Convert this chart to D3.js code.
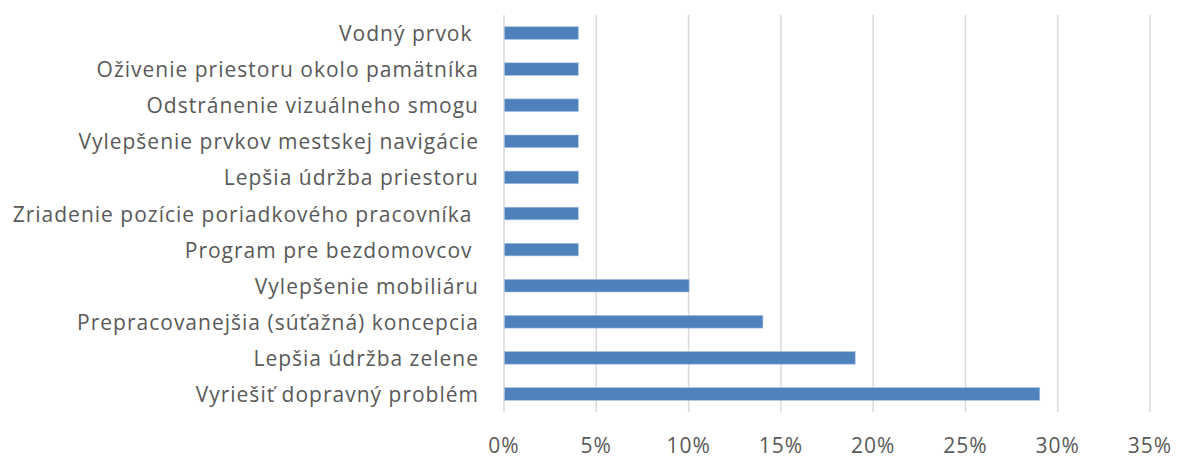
<!DOCTYPE html>
<html>
<head>
<meta charset="utf-8">
<script src="https://cdn.jsdelivr.net/npm/d3@7"></script>
<style>
  html, body { margin: 0; padding: 0; background: #fff; }
  svg text { font-family: "Open Sans", sans-serif; fill: #595959; white-space: pre; letter-spacing: 1px; }
</style>
</head>
<body>
<svg id="chart" width="1177" height="458"></svg>
<script>
const categories = [
  "Vodný prvok ",
  "Oživenie priestoru okolo pamätníka",
  "Odstránenie vizuálneho smogu",
  "Vylepšenie prvkov mestskej navigácie",
  "Lepšia údržba priestoru",
  "Zriadenie pozície poriadkového pracovníka ",
  "Program pre bezdomovcov ",
  "Vylepšenie mobiliáru",
  "Prepracovanejšia (súťažná) koncepcia",
  "Lepšia údržba zelene",
  "Vyriešiť dopravný problém"
];
const values = [0.04, 0.04, 0.04, 0.04, 0.04, 0.04, 0.04, 0.10, 0.14, 0.19, 0.29];
const tickValues = [0, 0.05, 0.10, 0.15, 0.20, 0.25, 0.30, 0.35];

(function () {
const svg = d3.select("#chart");
const pLeft = 504, pRight = 1150, pTop = 15, pBottom = 412;

const x = d3.scaleLinear().domain([0, 0.35]).range([pLeft, pRight]);
const y = d3.scaleBand().domain(categories).range([pTop, pBottom]).paddingInner(0.65).paddingOuter(0.325);

// gridlines
svg.append("g").selectAll("line").data(tickValues).join("line")
  .attr("x1", d => x(d)).attr("x2", d => x(d))
  .attr("y1", pTop).attr("y2", pBottom)
  .attr("stroke", "#d9d9d9").attr("stroke-width", 1.5);

// bars
svg.append("g").selectAll("rect").data(values).join("rect")
  .attr("x", x(0) + 0.5)
  .attr("y", (d, i) => y(categories[i]))
  .attr("width", d => x(d) - x(0))
  .attr("height", y.bandwidth())
  .attr("fill", "#4f81bd")
  .attr("stroke", "#a9c1e0").attr("stroke-width", 0.6);

// category labels
svg.append("g").selectAll("text").data(categories).join("text")
  .attr("x", 479)
  .attr("y", d => y(d) + y.bandwidth() / 2)
  .attr("text-anchor", "end")
  .attr("dominant-baseline", "central")
  .attr("font-size", 21)
  .text(d => d);

// x tick labels
const fmt = d3.format(".0%");
svg.append("g").selectAll("text").data(tickValues).join("text")
  .attr("x", d => x(d))
  .attr("y", 445)
  .attr("text-anchor", "middle")
  .attr("dominant-baseline", "central")
  .attr("font-size", 21)
  .text(d => fmt(d));
})();
</script>
</body>
</html>
